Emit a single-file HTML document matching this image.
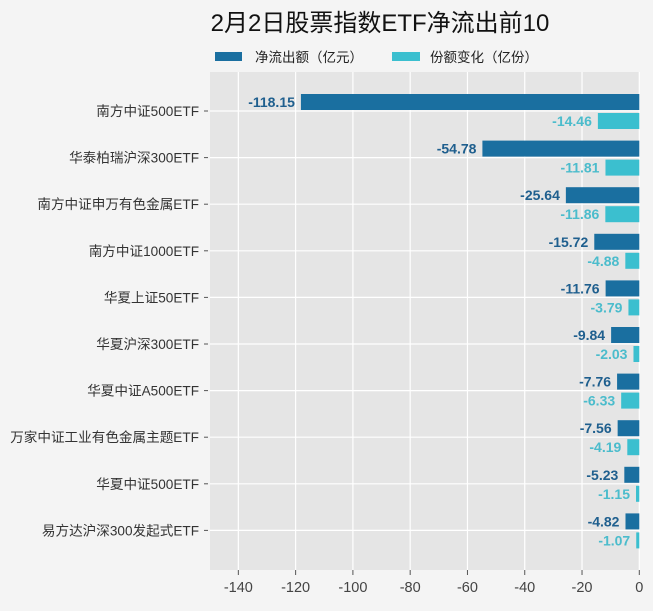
<!DOCTYPE html>
<html><head><meta charset="utf-8"><style>
body{margin:0;background:#f4f4f4;width:653px;height:606px;overflow:hidden;font-family:"Liberation Sans","Noto Sans CJK SC",sans-serif}
</style></head><body>
<svg width="653" height="606" xmlns="http://www.w3.org/2000/svg" font-family="Liberation Sans, Noto Sans CJK SC, sans-serif">
<rect width="653" height="606" fill="#f4f4f4"/>
<text x="380" y="31" font-size="24" text-anchor="middle" fill="#111">2月2日股票指数ETF净流出前10</text>
<rect x="215" y="52" width="27" height="9" fill="#1a6fa0"/>
<text x="255" y="62" font-size="13.5" fill="#222">净流出额（亿元）</text>
<rect x="392" y="52" width="28" height="9" fill="#3bbfcf"/>
<text x="430" y="62" font-size="13.5" fill="#222">份额变化（亿份）</text>
<rect x="210" y="72" width="429" height="498" fill="#e5e5e5"/>
<g stroke="#fff" stroke-width="1.2" id="g"></g>
<g id="b"></g>
</svg>
<script>
var names=["南方中证500ETF","华泰柏瑞沪深300ETF","南方中证申万有色金属ETF","南方中证1000ETF","华夏上证50ETF","华夏沪深300ETF","华夏中证A500ETF","万家中证工业有色金属主题ETF","华夏中证500ETF","易方达沪深300发起式ETF"];
var a=[-118.15,-54.78,-25.64,-15.72,-11.76,-9.84,-7.76,-7.56,-5.23,-4.82];
var b=[-14.46,-11.81,-11.86,-4.88,-3.79,-2.03,-6.33,-4.19,-1.15,-1.07];
var ns="http://www.w3.org/2000/svg",s=document.querySelector("svg"),g=document.getElementById("g"),bg=document.getElementById("b");
function el(p,t,at,tx){var e=document.createElementNS(ns,t);for(var k in at)e.setAttribute(k,at[k]);if(tx!=null)e.textContent=tx;p.appendChild(e);return e;}
var X=function(v){return 639.3+v*2.864;};
for(var v=-140;v<=0;v+=20){var x=X(v);el(g,"line",{x1:x,x2:x,y1:72,y2:570});el(s,"line",{x1:x,x2:x,y1:570,y2:575,stroke:"#555"});el(s,"text",{x:x,y:592,"font-size":14.5,"text-anchor":"middle",fill:"#444"},v);}
for(var i=0;i<10;i++){var c=111+i*46.6;el(g,"line",{x1:210,x2:639,y1:c,y2:c});
el(s,"line",{x1:204,x2:208,y1:c,y2:c,stroke:"#555"});
el(s,"text",{x:199,y:c+5,"font-size":13.6,"text-anchor":"end",fill:"#333"},names[i]);
el(bg,"rect",{x:X(a[i]),y:c-17,width:-a[i]*2.864,height:16,fill:"#1a6fa0"});
el(bg,"rect",{x:X(b[i]),y:c+2,width:-b[i]*2.864,height:16,fill:"#3bbfcf"});
el(bg,"text",{x:X(a[i])-6,y:c-4,"font-size":14,"font-weight":"bold","text-anchor":"end",fill:"#1f5f8e"},a[i].toFixed(2));
el(bg,"text",{x:X(b[i])-6,y:c+15,"font-size":14,"font-weight":"bold","text-anchor":"end",fill:"#4bbccc"},b[i].toFixed(2));}
</script>
</body></html>
